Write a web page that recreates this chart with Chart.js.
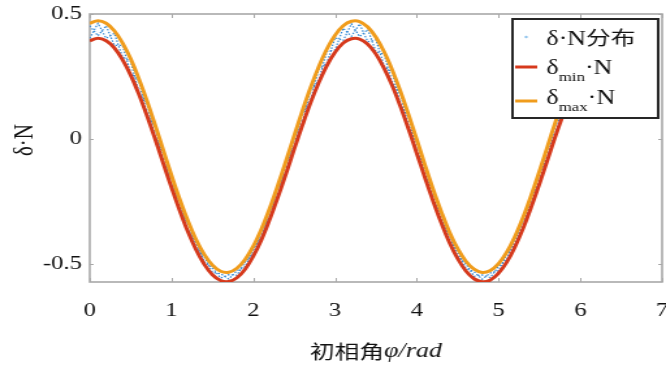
<!DOCTYPE html>
<html>
<head>
<meta charset="utf-8">
<script src="https://cdn.jsdelivr.net/npm/chart.js@4.4.0/dist/chart.umd.min.js"></script>
<style>
  html, body { margin: 0; padding: 0; background: #fff; }
  canvas { display: block; }
</style>
</head>
<body>
<!-- 元の図は横に約1.3倍引き伸ばされているので、512px幅で描いてCSSで666pxに広げる -->
<canvas id="chart" width="512" height="374" style="width:666px;height:374px"></canvas>
<script>
// 初相角 φ (rad)
const phi = [
  0.0, 0.1, 0.2, 0.3, 0.4, 0.5, 0.6, 0.7, 0.8, 0.9,
  1.0, 1.1, 1.2, 1.3, 1.4, 1.5, 1.6, 1.7, 1.8, 1.9,
  2.0, 2.1, 2.2, 2.3, 2.4, 2.5, 2.6, 2.7, 2.8, 2.9,
  3.0, 3.1, 3.2, 3.3, 3.4, 3.5, 3.6, 3.7, 3.8, 3.9,
  4.0, 4.1, 4.2, 4.3, 4.4, 4.5, 4.6, 4.7, 4.8, 4.9,
  5.0, 5.1, 5.2, 5.3, 5.4, 5.5, 5.6, 5.7, 5.8, 5.9,
  6.0, 6.1, 6.2, 6.3
];

// δmin·N
const deltaMin = [
  0.393, 0.403, 0.393, 0.365, 0.318, 0.256, 0.180, 0.093, 0.000, -0.097,
  -0.193, -0.285, -0.369, -0.441, -0.499, -0.541, -0.564, -0.568, -0.553, -0.519,
  -0.467, -0.401, -0.321, -0.232, -0.138, -0.040, 0.055, 0.145, 0.225, 0.294,
  0.347, 0.384, 0.401, 0.400, 0.379, 0.340, 0.283, 0.213, 0.130, 0.039,
  -0.057, -0.154, -0.248, -0.335, -0.413, -0.477, -0.526, -0.557, -0.569, -0.562,
  -0.535, -0.491, -0.430, -0.356, -0.270, -0.178, -0.081, 0.016, 0.107, 0.192,
  0.266, 0.327, 0.370, 0.396
];

// δmax·N
const deltaMax = [
  0.463, 0.473, 0.463, 0.433, 0.385, 0.321, 0.242, 0.153, 0.056, -0.044,
  -0.144, -0.239, -0.325, -0.400, -0.460, -0.503, -0.527, -0.531, -0.515, -0.480,
  -0.427, -0.358, -0.276, -0.184, -0.086, 0.014, 0.113, 0.206, 0.289, 0.360,
  0.415, 0.453, 0.471, 0.470, 0.448, 0.407, 0.349, 0.276, 0.191, 0.097,
  -0.002, -0.103, -0.200, -0.290, -0.371, -0.437, -0.487, -0.519, -0.532, -0.524,
  -0.497, -0.451, -0.388, -0.311, -0.223, -0.127, -0.027, 0.073, 0.167, 0.255,
  0.331, 0.395, 0.439, 0.465
];

// δ·N分布（上下の境界の間を行き来する点列、2本）
const distA = [
  0.453, 0.413, 0.453, 0.375, 0.375, 0.266, 0.232, 0.103, 0.046, -0.087,
  -0.154, -0.275, -0.335, -0.431, -0.470, -0.531, -0.537, -0.558, -0.525, -0.509,
  -0.437, -0.391, -0.286, -0.222, -0.096, -0.030, 0.103, 0.155, 0.279, 0.304,
  0.405, 0.394, 0.461, 0.410, 0.438, 0.350, 0.339, 0.223, 0.181, 0.049,
  -0.012, -0.144, -0.210, -0.325, -0.381, -0.467, -0.497, -0.547, -0.542, -0.552,
  -0.507, -0.481, -0.398, -0.346, -0.233, -0.168, -0.037, 0.026, 0.157, 0.202,
  0.321, 0.337, 0.429, 0.406
];
const distB = [
  0.403, 0.463, 0.403, 0.423, 0.328, 0.311, 0.190, 0.143, 0.010, -0.054,
  -0.183, -0.249, -0.359, -0.410, -0.489, -0.513, -0.554, -0.541, -0.543, -0.490,
  -0.457, -0.368, -0.311, -0.194, -0.128, 0.004, 0.065, 0.196, 0.235, 0.350,
  0.357, 0.443, 0.411, 0.460, 0.389, 0.397, 0.293, 0.266, 0.140, 0.087,
  -0.047, -0.113, -0.238, -0.300, -0.403, -0.447, -0.516, -0.529, -0.559, -0.534,
  -0.525, -0.461, -0.420, -0.321, -0.260, -0.137, -0.071, 0.063, 0.117, 0.245,
  0.276, 0.385, 0.380, 0.455
];

// 目盛り
const xTicks = [0, 1, 2, 3, 4, 5, 6, 7];
const yTicks = [-0.5, 0, 0.5];

const colRed = '#d6391c';
const colOrange = '#f09c1c';
const colBlue = '#3288d4';
const serif = "'Times New Roman', 'Liberation Serif', serif";
const cjk = "'Noto Sans CJK SC', sans-serif";

function toPoints(ys) {
  return phi.map((x, i) => ({ x: x, y: ys[i] }));
}

// 文字を部品ごとに並べて描く（下付き文字・フォント混在用）
function drawParts(ctx, x, y, parts) {
  parts.forEach(p => {
    ctx.font = p.font;
    ctx.fillText(p.text, x, y + (p.dy || 0));
    x += ctx.measureText(p.text).width + (p.gap || 0);
  });
}

// 枠・内向き目盛り・凡例・軸タイトル
const framePlugin = {
  id: 'frame',
  beforeDatasetsDraw(chart) {
    const ctx = chart.ctx;
    const a = chart.chartArea;
    const xs = chart.scales.x;
    const ys = chart.scales.y;
    ctx.save();
    ctx.strokeStyle = '#a8a8a8';
    ctx.lineWidth = 1.6;
    ctx.strokeRect(a.left, a.top, a.right - a.left, a.bottom - a.top);
    ctx.lineWidth = 1;
    ctx.beginPath();
    xTicks.forEach(v => {
      const px = Math.round(xs.getPixelForValue(v)) + 0.5;
      ctx.moveTo(px, a.bottom); ctx.lineTo(px, a.bottom - 4);
      ctx.moveTo(px, a.top); ctx.lineTo(px, a.top + 4);
    });
    yTicks.forEach(v => {
      const py = Math.round(ys.getPixelForValue(v)) + 0.5;
      ctx.moveTo(a.left, py); ctx.lineTo(a.left + 3, py);
      ctx.moveTo(a.right, py); ctx.lineTo(a.right - 3, py);
    });
    ctx.stroke();
    ctx.restore();
  },
  afterDatasetsDraw(chart) {
    const ctx = chart.ctx;
    ctx.save();
    // 凡例の枠
    ctx.fillStyle = '#fff';
    ctx.fillRect(394, 19, 112, 99);
    ctx.strokeStyle = '#262626';
    ctx.lineWidth = 2;
    ctx.strokeRect(394, 19, 112, 99);

    // 見本
    ctx.fillStyle = '#8cc2ec';
    ctx.beginPath();
    ctx.arc(404.5, 37, 1.2, 0, Math.PI * 2);
    ctx.fill();
    ctx.lineWidth = 3;
    ctx.strokeStyle = colRed;
    ctx.beginPath(); ctx.moveTo(396, 67); ctx.lineTo(413, 67); ctx.stroke();
    ctx.strokeStyle = colOrange;
    ctx.beginPath(); ctx.moveTo(396, 101); ctx.lineTo(413, 101); ctx.stroke();

    // 文字
    ctx.fillStyle = '#111';
    ctx.textBaseline = 'alphabetic';
    ctx.textAlign = 'left';
    drawParts(ctx, 420, 45, [
      { text: 'δ·N', font: '20px ' + serif },
      { text: '分布', font: '19px ' + cjk }
    ]);
    drawParts(ctx, 420, 74, [
      { text: 'δ', font: '20px ' + serif },
      { text: 'min', font: '13px ' + serif, dy: 7 },
      { text: '·N', font: '20px ' + serif }
    ]);
    drawParts(ctx, 420, 104, [
      { text: 'δ', font: '20px ' + serif },
      { text: 'max', font: '13px ' + serif, dy: 7 },
      { text: '·N', font: '20px ' + serif }
    ]);
    ctx.restore();
  },
  afterDraw(chart) {
    const ctx = chart.ctx;
    const a = chart.chartArea;
    ctx.save();
    ctx.fillStyle = '#111';
    ctx.textBaseline = 'middle';
    // x軸タイトル
    const partA = '初相角';
    const partB = 'φ/rad';
    const fontA = '19px ' + cjk;
    const fontB = 'italic 20px ' + serif;
    ctx.font = fontA;
    const wA = ctx.measureText(partA).width;
    ctx.font = fontB;
    const wB = ctx.measureText(partB).width;
    let x = (a.left + a.right) / 2 - (wA + wB) / 2;
    ctx.textAlign = 'left';
    ctx.font = fontA;
    ctx.fillText(partA, x, 352);
    ctx.font = fontB;
    ctx.fillText(partB, x + wA, 352);
    // y軸タイトル
    ctx.translate(19, 140);
    ctx.rotate(-Math.PI / 2);
    ctx.textAlign = 'center';
    ctx.font = '21px ' + serif;
    ctx.fillText('δ·N', 0, 0);
    ctx.restore();
  }
};

const ctx = document.getElementById('chart').getContext('2d');
new Chart(ctx, {
  type: 'line',
  data: {
    datasets: [
      { label: 'δmax·N', data: toPoints(deltaMax), borderColor: colOrange, borderWidth: 3, pointRadius: 0, tension: 0.4, order: 0 },
      { label: 'δmin·N', data: toPoints(deltaMin), borderColor: colRed, borderWidth: 3, pointRadius: 0, tension: 0.4, order: 1 },
      { label: 'δ·N分布', data: toPoints(distA), borderColor: colBlue, borderWidth: 1.2, borderDash: [1.5, 1.5], pointRadius: 0, tension: 0, order: 2 },
      { label: 'δ·N分布', data: toPoints(distB), borderColor: colBlue, borderWidth: 1.2, borderDash: [1.5, 1.5], pointRadius: 0, tension: 0, order: 3 }
    ]
  },
  options: {
    responsive: false,
    animation: false,
    events: [],
    layout: { padding: { top: 14, right: 3, left: 0, bottom: 0 } },
    plugins: {
      legend: { display: false },
      tooltip: { enabled: false }
    },
    scales: {
      x: {
        type: 'linear',
        min: 0,
        max: 7,
        grid: { display: false, drawTicks: false },
        border: { display: false },
        ticks: { padding: 18, color: '#111', font: { family: serif, size: 19 } },
        afterBuildTicks: s => { s.ticks = xTicks.map(v => ({ value: v })); },
        afterFit: s => { s.height = 92; s.paddingLeft = 0; s.paddingRight = 0; }
      },
      y: {
        min: -0.57,
        max: 0.5,
        grid: { display: false, drawTicks: false },
        border: { display: false },
        ticks: { padding: 6, color: '#111', font: { family: serif, size: 19 } },
        afterBuildTicks: s => { s.ticks = yTicks.map(v => ({ value: v })); },
        afterFit: s => { s.width = 69; s.paddingTop = 0; s.paddingBottom = 0; }
      }
    }
  },
  plugins: [framePlugin]
});
</script>
</body>
</html>
